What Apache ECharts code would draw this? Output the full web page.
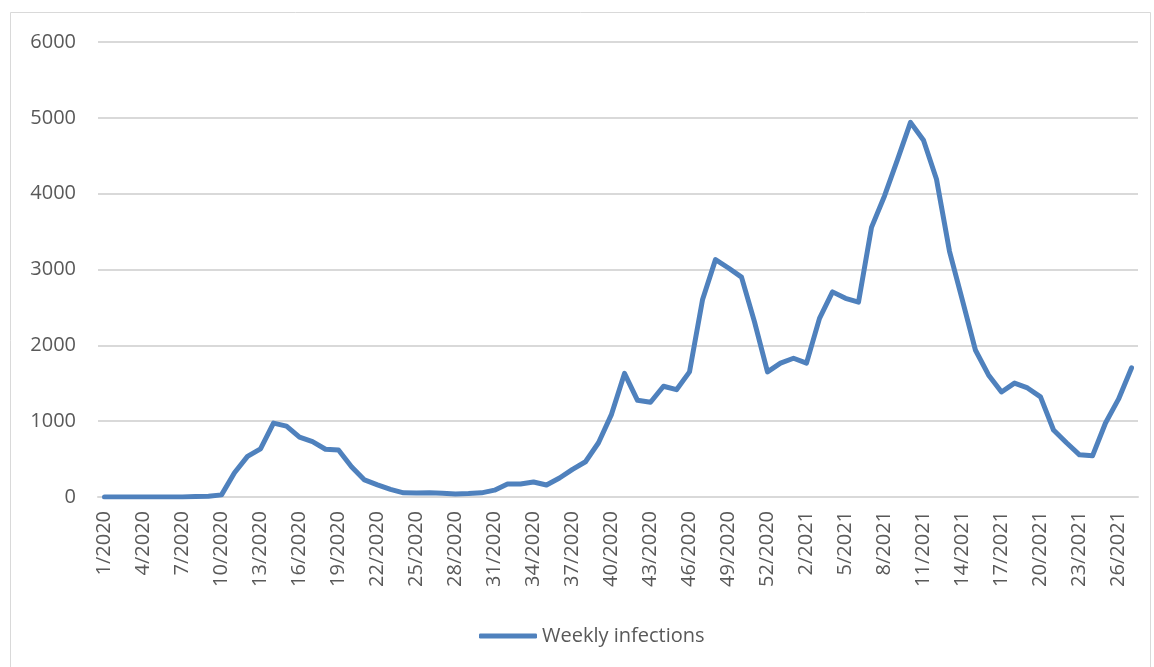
<!DOCTYPE html>
<html>
<head>
<meta charset="utf-8">
<script src="https://cdn.jsdelivr.net/npm/echarts@6/dist/echarts.min.js"></script>
<style>
html,body{margin:0;padding:0;background:#fff;}
#main{width:1154px;height:667px;}
</style>
</head>
<body>
<div id="main"></div>
<script>
// week labels: 53 weeks of 2020, then 27 of 2021
let weeks = [];
for (let w = 1; w <= 53; w++) weeks.push(w + '/2020');
for (let w = 1; w <= 27; w++) weeks.push(w + '/2021');

let infections2020 = [
    0, 0, 0, 0, 0, 0, 0, 5, 10, 28,
    320, 535, 635, 975, 935, 790, 730, 630, 620, 400,
    225, 160, 100, 55, 53, 55, 48, 40, 45, 55,
    90, 170, 172, 198, 158, 250, 365, 465, 715, 1090,
    1630, 1275, 1250, 1460, 1415, 1650, 2600, 3130, 3020, 2900,
    2310, 1650, 1765
];
let infections2021 = [
    1830, 1765, 2355, 2705, 2620, 2570, 3555, 3970, 4450, 4940,
    4705, 4190, 3240, 2590, 1935, 1610, 1385, 1502, 1438, 1320,
    884, 715, 556, 543, 976, 1290, 1702
];
let seriesName = 'Weekly infections';

let chart = echarts.init(document.getElementById('main'));
let font = '"Open Sans", "Liberation Sans", sans-serif';

let option = {
    backgroundColor: '#fff',
    animation: false,
    graphic: [{
        type: 'rect',
        shape: {x: 10.5, y: 12.5, width: 1140, height: 670},
        style: {fill: 'none', stroke: '#d9d9d9', lineWidth: 1}
    }],
    grid: {left: 98, right: 16, top: 42, bottom: 170},
    legend: {
        data: [seriesName],
        left: 474,
        top: 621,
        itemWidth: 58,
        itemHeight: 5,
        itemGap: 4,
        icon: 'roundRect',
        textStyle: {color: '#595959', fontSize: 20, fontFamily: font}
    },
    xAxis: {
        type: 'category',
        data: weeks,
        boundaryGap: true,
        axisLine: {lineStyle: {color: '#d9d9d9', width: 2}},
        axisTick: {show: false},
        axisLabel: {
            interval: 2,
            rotate: 90,
            color: '#595959',
            fontSize: 20,
            fontFamily: font,
            margin: 14
        }
    },
    yAxis: {
        type: 'value',
        min: 0,
        max: 6000,
        interval: 1000,
        axisLine: {show: false},
        axisTick: {show: false},
        splitLine: {lineStyle: {color: '#d9d9d9', width: 2}},
        axisLabel: {
            color: '#595959',
            fontSize: 20,
            fontFamily: font,
            margin: 22,
            formatter: function (v) { return String(v); }
        }
    },
    series: [{
        name: seriesName,
        type: 'line',
        data: infections2020.concat(infections2021),
        symbol: 'none',
        lineStyle: {color: '#4f81bd', width: 5, cap: 'round', join: 'round'},
        itemStyle: {color: '#4f81bd'}
    }]
};
chart.setOption(option);
</script>
</body>
</html>
